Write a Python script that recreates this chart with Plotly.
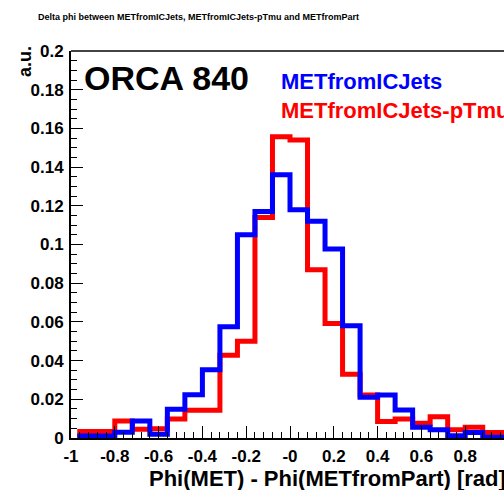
import plotly.graph_objects as go

# ---- data ----
bin_edges = [-0.96, -0.88, -0.80, -0.72, -0.64, -0.56, -0.48, -0.40, -0.32, -0.24,
             -0.16, -0.08, 0.0, 0.08, 0.16, 0.24, 0.32, 0.40, 0.48, 0.56,
             0.64, 0.72, 0.80, 0.88, 0.96, 1.04]

met_ic_jets = [0.0010, 0.0010, 0.0030, 0.0088, 0.0020, 0.0149, 0.0223, 0.0353,
               0.0575, 0.1050, 0.1170, 0.1360, 0.1180, 0.1120, 0.0977, 0.0580,
               0.0210, 0.0222, 0.0145, 0.0055, 0.0042, 0.0012, 0.0028, 0.0004, 0.0004]

met_ic_jets_ptmu = [0.0033, 0.0033, 0.0088, 0.0045, 0.0048, 0.0098, 0.0144, 0.0144,
                    0.0428, 0.0500, 0.1140, 0.1557, 0.1540, 0.0870, 0.0592, 0.0330,
                    0.0222, 0.0085, 0.0098, 0.0076, 0.0110, 0.0042, 0.0055, 0.0028, 0.0028]

x_tick_vals = [-1, -0.8, -0.6, -0.4, -0.2, 0, 0.2, 0.4, 0.6, 0.8]
x_tick_text = ["-1", "-0.8", "-0.6", "-0.4", "-0.2", "-0", "0.2", "0.4", "0.6", "0.8"]

title_text = "Delta phi between METfromICJets, METfromICJets-pTmu and METfromPart"
x_title = "Phi(MET) - Phi(METfromPart) [rad]"
y_title = "a.u."

FONT = "Liberation Sans, Arial, Helvetica, sans-serif"


def step_xy(edges, vals):
    xs = [edges[0]] + list(edges)
    ys = [0] + list(vals) + [0]
    return xs, ys


fig = go.Figure()
for vals, color, name in [(met_ic_jets_ptmu, "#ff0000", "METfromICJets-pTmu"),
                          (met_ic_jets, "#0000ff", "METfromICJets")]:
    xs, ys = step_xy(bin_edges, vals)
    fig.add_trace(go.Scatter(x=xs, y=ys, mode="lines", line=dict(color=color, width=5, shape="hv"),
                             name=name, showlegend=False, hoverinfo="skip"))

L, R, T, B = 71, 0, 51, 52
W, H = 504, 490
pw, ph = W - L - R, H - T - B


def px(xp):
    return (xp - L) / pw


def py(yp):
    return (H - B - yp) / ph


fig.update_layout(
    width=W, height=H,
    margin=dict(l=L, r=R, t=T, b=B, pad=0),
    paper_bgcolor="white", plot_bgcolor="white",
    font=dict(family=FONT, color="black"),
    xaxis=dict(
        range=[-1, -1 + pw / 219.0],
        tickmode="array", tickvals=x_tick_vals, ticktext=x_tick_text,
        ticks="inside", ticklen=12, tickwidth=1, tickcolor="black",
        minor=dict(tick0=-1, dtick=0.04, ticks="inside", ticklen=6, tickwidth=1, tickcolor="black"),
        showline=True, linecolor="black", linewidth=2, mirror=False,
        showgrid=False, zeroline=False,
        tickfont=dict(family=FONT, size=17, weight="bold"),
        ticklabelstandoff=2,
    ),
    yaxis=dict(
        range=[0, 0.2],
        tickmode="linear", tick0=0, dtick=0.02,
        ticks="inside", ticklen=12, tickwidth=1, tickcolor="black",
        minor=dict(dtick=0.005, ticks="inside", ticklen=6, tickwidth=1, tickcolor="black"),
        showline=True, linecolor="black", linewidth=2, mirror=False,
        showgrid=False, zeroline=False,
        tickfont=dict(family=FONT, size=17, weight="bold"),
        ticklabelstandoff=2,
    ),
    shapes=[dict(type="line", xref="paper", yref="paper", x0=0, x1=1, y0=1, y1=1,
                 line=dict(color="#444444", width=2))],
    annotations=[
        dict(text=title_text, xref="paper", yref="paper", x=px(36), y=py(17),
             xanchor="left", yanchor="middle", showarrow=False,
             font=dict(family=FONT, size=9, weight="bold", color="black")),
        dict(text="ORCA 840", xref="paper", yref="paper", x=px(82), y=py(78),
             xanchor="left", yanchor="middle", showarrow=False,
             font=dict(family=FONT, size=34, weight="bold", color="black")),
        dict(text="METfromICJets", xref="paper", yref="paper", x=px(279), y=py(81),
             xanchor="left", yanchor="middle", showarrow=False,
             font=dict(family=FONT, size=22, weight="bold", color="#0000ff")),
        dict(text="METfromICJets-pTmu", xref="paper", yref="paper", x=px(279), y=py(110),
             xanchor="left", yanchor="middle", showarrow=False,
             font=dict(family=FONT, size=22, weight="bold", color="#ff0000")),
        dict(text=y_title, xref="paper", yref="paper", x=px(25), y=py(62),
             xanchor="center", yanchor="middle", showarrow=False, textangle=-90,
             font=dict(family=FONT, size=18, weight="bold", color="black")),
        dict(text=x_title, xref="paper", yref="paper", x=px(147), y=py(479),
             xanchor="left", yanchor="middle", showarrow=False,
             font=dict(family=FONT, size=22, weight="bold", color="black")),
    ],
)

fig.write_html("out.html")
